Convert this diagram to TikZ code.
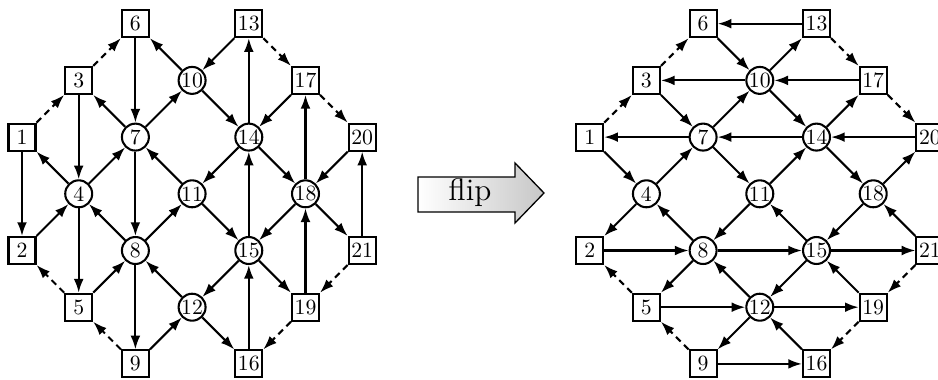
\documentclass[tikz,border=0pt]{standalone}
\usetikzlibrary{arrows.meta}
\begin{document}
\begin{tikzpicture}[x=0.46pt,y=-0.46pt]
\tikzset{
  sq/.style={draw, line width=0.95pt, rectangle, minimum size=12.4pt, inner sep=0.8pt},
  rd/.style={draw, line width=0.95pt, circle, minimum size=12.4pt, inner sep=0pt},
  ed/.style={line width=0.95pt, -{Latex[length=6.3pt,width=4.5pt]}},
  dsh/.style={ed, dash pattern=on 3pt off 2.2pt},
}
\useasboundingbox (0,0) rectangle (938,379);

% grid nodes of both graphs: number/column/row
\foreach \n/\c/\r in {1/0/2,2/0/4,3/1/1,5/1/5,6/2/0,9/2/6,13/4/0,16/4/6,17/5/1,19/5/5,20/6/2,21/6/4}{
  \node[sq] (L\n) at ({22+56.7*\c},{23.7+56.7*\r}) {\n};
  \node[sq] (R\n) at ({589.7+56.7*\c},{23.7+56.7*\r}) {\n};
}
\foreach \n/\c/\r in {4/1/3,7/2/2,8/2/4,10/3/1,11/3/3,12/3/5,14/4/2,15/4/4,18/5/3}{
  \node[rd] (L\n) at ({22+56.7*\c},{23.7+56.7*\r}) {\n};
  \node[rd] (R\n) at ({589.7+56.7*\c},{23.7+56.7*\r}) {\n};
}

% left graph
\foreach \a/\b in {6/7,10/6,7/3,7/10,3/4,4/1,4/7,11/7,1/2,13/10,14/13,10/14,17/14,14/11,14/18,18/17,20/18,21/20,2/4,4/5,7/8,8/4,8/11,5/8,8/9,12/8,9/12,11/15,15/14,18/15,18/21,15/12,15/19,19/18,12/16,16/15}
  \draw[ed] (L\a) -- (L\b);
% right graph
\foreach \a/\b in {13/6,6/10,10/3,3/7,7/10,7/1,1/4,4/7,7/11,10/13,17/10,10/14,14/17,14/7,20/14,11/14,14/18,18/20,4/2,8/4,11/8,2/8,8/15,8/5,12/8,15/11,18/15,21/18,15/21,15/12,19/15,5/12,12/19,12/9,16/12,9/16}
  \draw[ed] (R\a) -- (R\b);
% dashed boundary edges, shared by both
\foreach \a/\b in {1/3,3/6,13/17,17/20,5/2,9/5,21/19,19/16}{
  \draw[dsh] (L\a) -- (L\b);
  \draw[dsh] (R\a) -- (R\b);
}

% the flip arrow
\path[draw, semithick, left color=white, right color=black!22]
  (418,177) -- (515,177) -- (515,163) -- (544,193) -- (515,223) -- (515,212) -- (418,212) -- cycle;
\node (flip) at (470,193) {\Large flip};
\end{tikzpicture}
\end{document}
